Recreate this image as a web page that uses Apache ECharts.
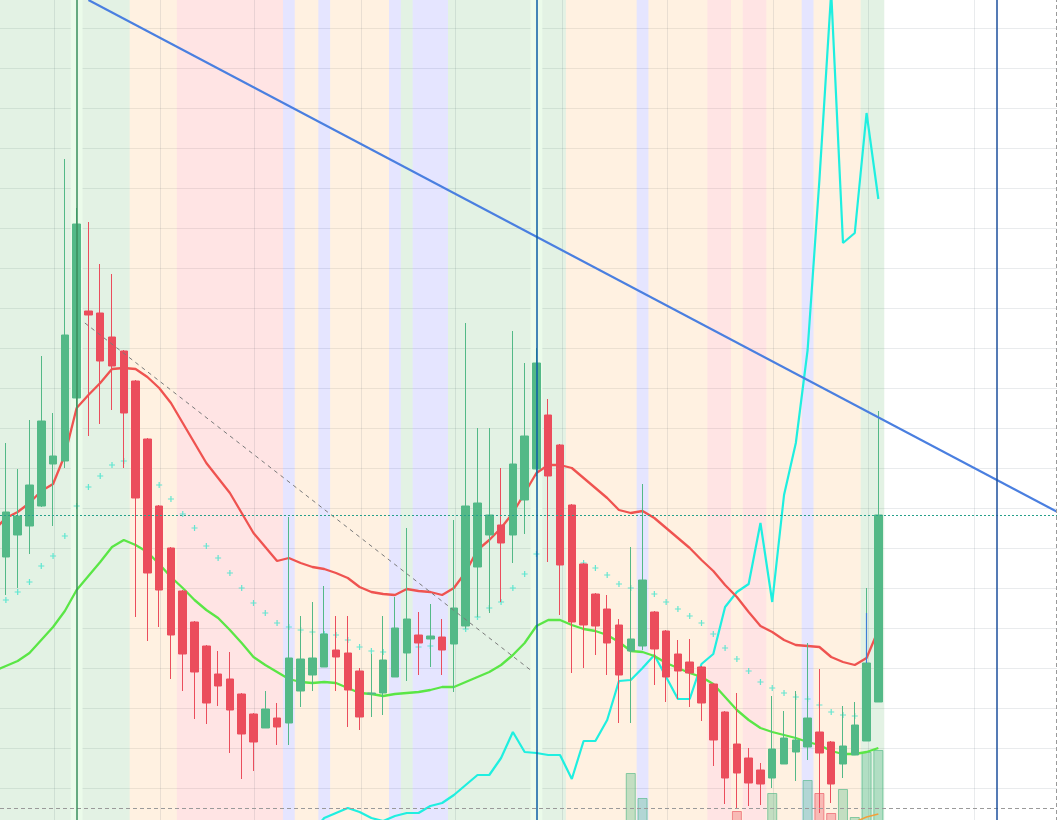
<!DOCTYPE html>
<html>
<head>
<meta charset="utf-8">
<script src="https://cdn.jsdelivr.net/npm/echarts@6/dist/echarts.min.js"></script>
<style>
html,body{margin:0;padding:0;background:#ffffff;}
#chart{width:1057px;height:820px;}
</style>
</head>
<body>
<div id="chart"></div>
<script>
// ---------------- DATA ----------------
const categories = Array.from({length: 90}, (_, i) => 'W' + (i + 1));

const open  = [271,293,302,322,364,367,430,517,515,491, 477,447,389,322,280,237,206,182,154,149,
               134,114,100,110,105,137,153,161,178,175, 157,134,135,151,175,193,189,191,184,202,
               261,293,303,293,328,359,413,383,323,264, 234,219,203,177,182,216,197,174,166,161,
               144,116,84,70,58,50,64,76,81,96, 86,64,73,87,126];
const close = [316,312,343,407,372,493,604,513,467,462, 415,330,255,238,193,174,156,125,142,118,
               94,86,119,101,170,169,170,194,171,138, 111,135,168,200,209,185,192,178,220,322,
               325,313,285,364,392,465,352,263,206,203, 202,185,153,189,248,179,151,157,155,125,
               88,50,55,45,44,79,90,88,110,75, 44,82,103,165,313];
const low   = [233,240,274,321,302,360,420,392,404,418, 360,211,187,201,149,137,109,104,122,75,
               49,57,100,83,83,121,137,161,137,101, 98,111,113,151,147,153,161,153,136,199,
               211,215,226,265,294,352,266,213,155,160, 173,153,105,105,178,143,126,129,121,107,
               62,24,19,22,23,40,64,47,68,15, 25,50,73,87,126];
const high  = [385,359,408,472,415,669,620,606,564,554, 478,448,390,323,281,238,207,183,177,176,
               135,115,137,125,311,212,226,242,212,212, 160,174,212,231,300,216,224,209,308,505,
               400,400,360,497,465,480,429,384,324,265, 235,233,209,281,344,217,198,188,189,162,
               145,117,135,80,65,132,117,137,185,159, 87,122,126,240,417];

const volume = [null,null,null,null,null,null,null,null,null,null, null,null,null,null,null,null,null,null,null,null,
                null,null,null,null,null,null,null,null,null,null, null,null,null,null,null,null,null,null,null,null,
                null,null,null,null,null,null,null,null,null,null, null,null,null,55,30,null,null,null,null,null,
                null,null,17,null,null,35,null,null,48,35, 15,39,11,76,78];

// moving averages; the "Prev" values belong to the bar just left of the first visible one
const maFastPrev = 298;
const maFast = [310,316,325,337,344,373,420,433,445,459, 460,459,451,440,425,405,385,365,350,335,
                315,295,281,267,270,265,261,259,255,250, 241,236,234,233,239,237,236,233,240,256,
                278,288,300,315,335,355,363,363,360,350, 340,330,318,315,317,310,300,290,280,268,
                257,243,231,216,202,196,188,183,182,181, 171,166,163,170,198];
const maSlowPrev = 157;
const maSlow = [162,167,175,188,201,217,238,252,266,281, 288,283,276,264,251,240,228,218,210,198,
                185,171,163,156,149,146,145,146,145,140, 135,134,132,134,135,136,138,141,141,146,
                151,156,163,173,185,202,208,208,203,199, 197,193,186,177,176,172,165,160,155,151,
                144,131,118,108,100,96,93,90,86,83, 77,74,74,76,80];

const oscLine = [null,null,null,null,null,null,null,null,null,null, null,null,null,null,null,null,null,null,null,null,
                 null,null,null,null,null,null,-4,10,15,20, 16,10,7,12,15,15,22,25,33,43,
                 53,53,70,96,76,75,73,73,49,87, 87,108,147,148,160,173,151,129,129,164,
                 174,221,236,244,305,226,333,385,478,648, 836,585,595,715,629];

const sarDots = [228,236,246,262,272,292,322,341,352,363, 367,null,null,343,329,314,300,282,270,255,
                 240,225,215,205,201,198,196,194,193,188, 181,177,176,null,null,181,182,null,null,199,
                 211,220,226,240,254,274,null,null,null,265, 260,253,244,240,null,234,226,219,212,205,
                 194,180,169,157,146,140,135,131,129,123, 116,113,112,null,null];

const orangeLine = [null,null,null,null,null,null,null,null,null,null, null,null,null,null,null,null,null,null,null,null,
                    null,null,null,null,null,null,null,null,null,null, null,null,null,null,null,null,null,null,null,null,
                    null,null,null,null,null,null,null,null,null,null, null,null,null,null,null,null,null,null,null,null,
                    null,null,null,null,null,null,null,null,null,null, null,null,6,11,14];

// background regimes: [firstIndex, lastIndex, kind]
const regimes = [[0,10,'g'],[11,14,'o'],[15,23,'r'],[24,24,'b'],[25,26,'o'],[27,27,'b'],[28,32,'o'],
                 [33,33,'b'],[34,34,'g'],[35,37,'b'],[38,47,'g'],[48,53,'o'],[54,54,'b'],[55,59,'o'],
                 [60,61,'r'],[62,62,'o'],[63,64,'r'],[65,67,'o'],[68,68,'b'],[69,72,'o'],[73,74,'g']];
const highlightIdx = [6, 45];
const timeGridAt = [4.1, 13.1, 21.1, 30.1, 38.15, 47.15, 56.1, 65.1, 73.15, 82.15];
const eventLines = [6, 45, 84];
const trendLine = [[7, 828], [89.5, 314]];
const guideLine = [[6.7, 505], [44.6, 157]];
const baseLevel = 20;
const rightEdge = 89.07;

// ---------------- CHART ----------------
const NCAT = categories.length;
const BAND = 11.79;
const UP = '#53b987', DOWN = '#eb4d5c';
const regimeColor = {
  g: 'rgba(76,175,80,0.155)',
  o: 'rgba(255,160,50,0.145)',
  r: 'rgba(255,82,82,0.155)',
  b: 'rgba(30,30,255,0.115)'
};
const candleData = open.map((o, i) => [o, close[i], low[i], high[i]]);
const volData = volume.map((v, i) => v == null ? null : {
  value: v,
  itemStyle: close[i] >= open[i]
    ? {color: 'rgba(83,185,135,0.35)', borderColor: 'rgba(83,185,135,0.65)', borderWidth: 1}
    : {color: 'rgba(235,77,92,0.33)', borderColor: 'rgba(235,77,92,0.6)', borderWidth: 1}
});
const sarData = [];
sarDots.forEach((v, i) => { if (v != null) sarData.push([i, v]); });
const fastPts = [[-1, maFastPrev]].concat(maFast.map((v, i) => [i, v]));
const slowPts = [[-1, maSlowPrev]].concat(maSlow.map((v, i) => [i, v]));

const eventColors = ['#3a8f5c', '#0c5ea5', '#1c4f9c'];

const chart = echarts.init(document.getElementById('chart'), null, {renderer: 'canvas'});
chart.setOption({
  animation: false,
  backgroundColor: '#ffffff',
  grid: {left: 0, top: -12, width: NCAT * BAND, height: 840, containLabel: false, outerBoundsMode: 'none'},
  xAxis: [
    {type: 'category', data: categories, boundaryGap: true, show: false},
    {type: 'value', min: -0.5, max: NCAT - 0.5, show: false}
  ],
  yAxis: [
    {type: 'value', min: 0, max: 840, interval: 40, show: true,
     axisLine: {show: false}, axisTick: {show: false}, axisLabel: {show: false},
     splitLine: {show: true, lineStyle: {color: 'rgba(42,55,80,0.1)', width: 1}}},
    {type: 'value', min: 0, max: 840, show: false}
  ],
  series: [
    {
      type: 'line', xAxisIndex: 1, yAxisIndex: 0, data: [], silent: true,
      markArea: {
        silent: true, z: 1,
        data: regimes.map(([a, b, k]) => [
          {xAxis: a - 0.5, itemStyle: {color: regimeColor[k]}},
          {xAxis: b + 0.5}
        ])
      }
    },
    {
      type: 'line', xAxisIndex: 1, yAxisIndex: 0, data: [], silent: true,
      markArea: {
        silent: true, z: 1.5,
        data: highlightIdx.map(i => [
          {xAxis: i - 0.5, itemStyle: {color: '#ebfbea'}},
          {xAxis: i + 0.5}
        ])
      },
      markLine: {
        silent: true, z: 1.6, symbol: ['none', 'none'], label: {show: false},
        lineStyle: {color: 'rgba(42,55,80,0.1)', width: 1, type: 'solid'},
        data: timeGridAt.map(x => ({xAxis: x}))
      }
    },
    {
      name: 'Volume', type: 'bar', xAxisIndex: 0, yAxisIndex: 1, data: volData,
      barWidth: 10, z: 2, silent: true
    },
    {
      name: 'Osc', type: 'line', data: oscLine, symbol: 'none', z: 3, silent: true,
      lineStyle: {color: '#1fefe0', width: 2.2}
    },
    {
      name: 'Orange', type: 'line', data: orangeLine, symbol: 'none', z: 3, silent: true,
      lineStyle: {color: '#f2a03a', width: 1.5}
    },
    {
      name: 'MA fast', type: 'line', xAxisIndex: 1, data: fastPts, symbol: 'none', z: 3, silent: true,
      lineStyle: {color: '#ef5350', width: 2.3}
    },
    {
      name: 'MA slow', type: 'line', xAxisIndex: 1, data: slowPts, symbol: 'none', z: 3, silent: true,
      lineStyle: {color: '#5ae646', width: 2.3}
    },
    {
      name: 'SAR', type: 'scatter', data: sarData, z: 3, silent: true,
      symbol: 'path://M2 0h1v2h2v1h-2v2h-1v-2h-2v-1h2z', symbolSize: 6,
      itemStyle: {color: '#3fe3cc'}
    },
    {
      name: 'Price', type: 'candlestick', data: candleData, z: 4, silent: true,
      barWidth: 8,
      itemStyle: {color: UP, color0: DOWN, borderColor: UP, borderColor0: DOWN, borderWidth: 1}
    },
    {
      type: 'line', xAxisIndex: 1, yAxisIndex: 0, data: [], silent: true,
      markLine: {
        silent: true, z: 5, symbol: ['none', 'none'], label: {show: false},
        data: [
          [{coord: trendLine[0], lineStyle: {color: '#4a7fe0', width: 2.2, type: 'solid'}}, {coord: trendLine[1]}],
          [{coord: guideLine[0], lineStyle: {color: '#7a7a7a', width: 1, type: [4, 4]}}, {coord: guideLine[1]}],
          {yAxis: baseLevel, lineStyle: {color: '#9a9a9a', width: 1, type: [4, 3]}},
          {xAxis: rightEdge, lineStyle: {color: '#9a9a9a', width: 1, type: [4, 3]}},
          {yAxis: close[close.length - 1], lineStyle: {color: '#26a08a', width: 1, type: [2, 2]}},
          ...eventLines.map((x, k) => ({xAxis: x, lineStyle: {color: eventColors[k], width: 1.5, type: 'solid'}})),
          [{coord: [73, 215], lineStyle: {color: '#3d7fd6', width: 1.2, type: 'solid'}}, {coord: [73, 165]}]
        ]
      }
    }
  ]
});
</script>
</body>
</html>
